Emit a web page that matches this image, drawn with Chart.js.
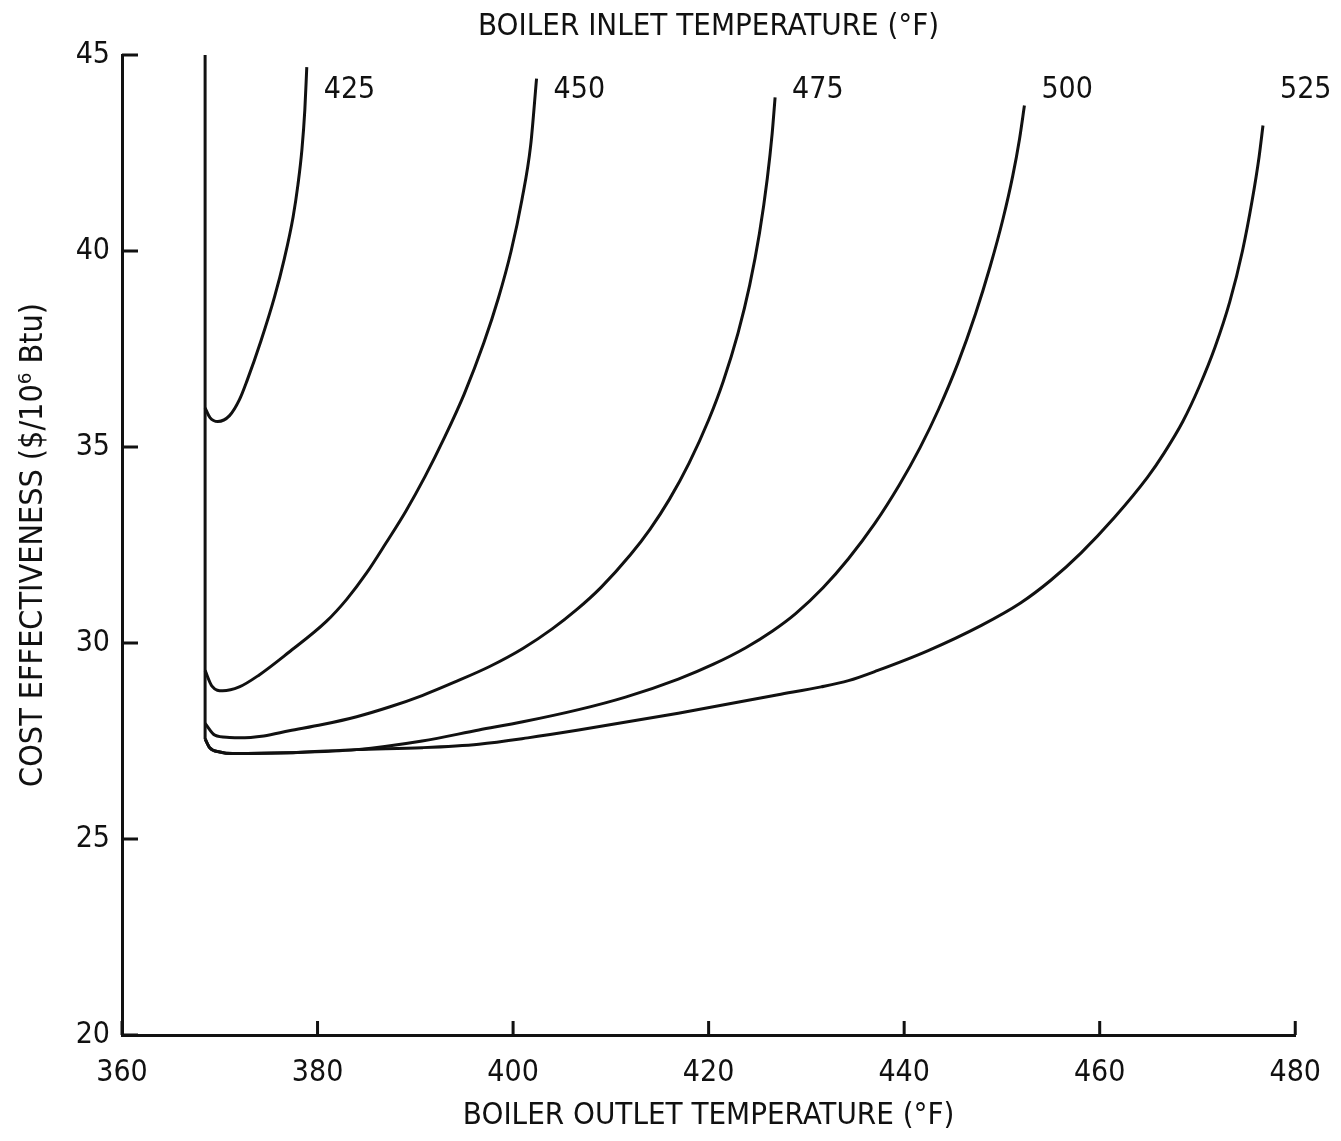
<!DOCTYPE html>
<html>
<head>
<meta charset="utf-8">
<script src="https://cdn.jsdelivr.net/npm/chart.js@4.4.0/dist/chart.umd.min.js"></script>
<style>
  html, body { margin: 0; padding: 0; background: #fff; }
  #wrap { width: 1341px; height: 1141px; }
</style>
</head>
<body>
<div id="wrap"><canvas id="chart" width="1341" height="1141"></canvas></div>
<script>
// Boiler inlet temperatures, one curve each
const inletTemps = [425, 450, 475, 500, 525];

// common vertical limit line on the left
const limitX = [368.5, 368.5];
const limitY = [45, 27.55];

const outlet425 = [368.5, 369.0, 369.8, 371.0, 372.0, 372.8, 374.2, 375.6, 376.6, 377.5, 378.0, 378.4, 378.7, 378.9];
const cost425   = [36.0, 35.75, 35.65, 35.8, 36.2, 36.7, 37.7, 38.83, 39.8, 40.87, 41.7, 42.58, 43.6, 44.69];

const outlet450 = [368.5, 369.2, 370.3, 372.0, 374.0, 377.0, 380.9, 383.0, 385.0, 387.0, 389.0, 391.0, 393.0, 395.0, 397.0, 398.5, 399.8, 400.9, 401.8, 402.4];
const cost450   = [29.3, 28.9, 28.78, 28.88, 29.18, 29.75, 30.55, 31.12, 31.78, 32.55, 33.35, 34.25, 35.25, 36.35, 37.65, 38.8, 40.0, 41.3, 42.7, 44.4];

const outlet475 = [368.5, 369.5, 371.0, 372.0, 374.5, 377.1, 380.5, 384.0, 387.5, 390.7, 394.0, 397.6, 401.0, 404.0, 406.5, 409.0, 412.0, 414.0, 416.0, 418.0, 420.0, 421.5, 423.0, 424.2, 425.2, 426.0, 426.5, 426.8];
const cost475   = [27.95, 27.65, 27.59, 27.58, 27.63, 27.76, 27.92, 28.12, 28.38, 28.66, 29.0, 29.4, 29.86, 30.36, 30.85, 31.42, 32.25, 32.9, 33.67, 34.59, 35.69, 36.68, 37.9, 39.13, 40.45, 41.85, 43.0, 43.92];

const outlet500 = [368.5, 369.0, 370.0, 371.3, 377.1, 384.0, 390.7, 396.5, 401.0, 406.7, 411.5, 416.9, 420.5, 423.8, 426.5, 428.9, 431.7, 434.3, 437.0, 439.5, 441.6, 443.5, 445.5, 447.3, 448.8, 450.1, 451.1, 451.8, 452.3];
const cost500   = [27.55, 27.32, 27.22, 27.18, 27.2, 27.28, 27.5, 27.78, 27.99, 28.3, 28.62, 29.08, 29.46, 29.88, 30.3, 30.75, 31.41, 32.15, 33.05, 34.03, 34.97, 35.95, 37.14, 38.4, 39.61, 40.81, 41.91, 42.86, 43.71];

const outlet525 = [368.5, 369.0, 370.0, 371.3, 377.1, 384.0, 390.7, 396.5, 401.5, 406.7, 416.9, 427.1, 431.5, 434.3, 437.3, 442.4, 447.9, 451.9, 455.0, 458.1, 461.5, 464.9, 466.6, 468.5, 470.2, 471.8, 473.3, 474.6, 475.6, 476.3, 476.7];
const cost525   = [27.55, 27.32, 27.22, 27.18, 27.2, 27.28, 27.33, 27.42, 27.58, 27.78, 28.21, 28.68, 28.88, 29.04, 29.3, 29.8, 30.45, 31.02, 31.6, 32.3, 33.2, 34.23, 34.85, 35.65, 36.55, 37.55, 38.7, 40.0, 41.3, 42.4, 43.2];

const xTicks = [360, 380, 400, 420, 440, 460, 480];
const yTicks = [20, 25, 30, 35, 40, 45];

const FONT = '"Liberation Sans Narrow", "DejaVu Sans Condensed", "Arial Narrow", sans-serif';
const INK = '#111';

function zip(xs, ys) {
  return xs.map((x, i) => ({ x: x, y: ys[i] }));
}

const curves = [
  zip(outlet425, cost425),
  zip(outlet450, cost450),
  zip(outlet475, cost475),
  zip(outlet500, cost500),
  zip(outlet525, cost525)
];

const datasets = [{
  label: 'limit',
  data: zip(limitX, limitY),
  borderColor: INK,
  borderWidth: 3,
  pointRadius: 0,
  tension: 0
}];
curves.forEach((pts, i) => {
  datasets.push({
    label: String(inletTemps[i]),
    data: pts,
    borderColor: INK,
    borderWidth: 3,
    pointRadius: 0,
    cubicInterpolationMode: 'monotone'
  });
});

// short inward tick marks + the inlet temperature next to each curve end
const plotMarks = {
  id: 'plotMarks',
  afterDraw(chart) {
    const ctx = chart.ctx;
    const xs = chart.scales.x, ys = chart.scales.y;
    ctx.save();
    ctx.strokeStyle = INK;
    ctx.lineWidth = 3;
    ctx.beginPath();
    xTicks.forEach(v => {
      const px = xs.getPixelForValue(v);
      ctx.moveTo(px, ys.bottom);
      ctx.lineTo(px, ys.bottom - 14);
    });
    yTicks.forEach(v => {
      const py = ys.getPixelForValue(v);
      ctx.moveTo(xs.left, py);
      ctx.lineTo(xs.left + 16, py);
    });
    ctx.stroke();

    ctx.fillStyle = INK;
    ctx.font = '30px ' + FONT;
    ctx.textAlign = 'left';
    ctx.textBaseline = 'middle';
    const labelY = ys.getPixelForValue(44.1);
    inletTemps.forEach((t, i) => {
      const meta = chart.getDatasetMeta(i + 1);
      const last = meta.data[meta.data.length - 1];
      ctx.fillText(String(t), last.x + 17, labelY);
    });
    ctx.restore();
  }
};

Chart.defaults.font.family = FONT;
Chart.defaults.color = INK;

const ctx = document.getElementById('chart').getContext('2d');
new Chart(ctx, {
  type: 'line',
  data: { datasets: datasets },
  options: {
    responsive: false,
    animation: false,
    layout: { padding: { left: 14, right: 43, top: 0, bottom: 6 } },
    plugins: {
      legend: { display: false },
      tooltip: { enabled: false }
    },
    scales: {
      x: {
        type: 'linear',
        min: 360,
        max: 480,
        afterBuildTicks: s => { s.ticks = xTicks.map(v => ({ value: v })); },
        afterFit: s => { s.height = 100; },
        grid: { display: false, drawTicks: false },
        border: { display: true, color: INK, width: 3 },
        ticks: { padding: 20, font: { size: 30 }, color: INK },
        title: {
          display: true,
          text: 'BOILER OUTLET TEMPERATURE (°F)',
          font: { size: 31 },
          color: INK,
          padding: { top: 0, bottom: 0 }
        }
      },
      x2: {
        type: 'linear',
        position: 'top',
        min: 360,
        max: 480,
        afterFit: s => { s.height = 55; },
        grid: { display: false, drawTicks: false },
        border: { display: false },
        ticks: { display: false },
        title: {
          display: true,
          text: 'BOILER INLET TEMPERATURE (°F)',
          font: { size: 31 },
          color: INK,
          padding: { top: 8, bottom: 0 }
        }
      },
      y: {
        type: 'linear',
        min: 20,
        max: 45,
        afterBuildTicks: s => { s.ticks = yTicks.map(v => ({ value: v })); },
        afterFit: s => { s.width = 108; },
        grid: { display: false, drawTicks: false },
        border: { display: true, color: INK, width: 3 },
        ticks: { padding: 12, font: { size: 30 }, color: INK },
        title: {
          display: true,
          text: 'COST EFFECTIVENESS ($/10⁶ Btu)',
          font: { size: 32 },
          color: INK,
          padding: { top: 0, bottom: 0 }
        }
      }
    }
  },
  plugins: [plotMarks]
});
</script>
</body>
</html>
